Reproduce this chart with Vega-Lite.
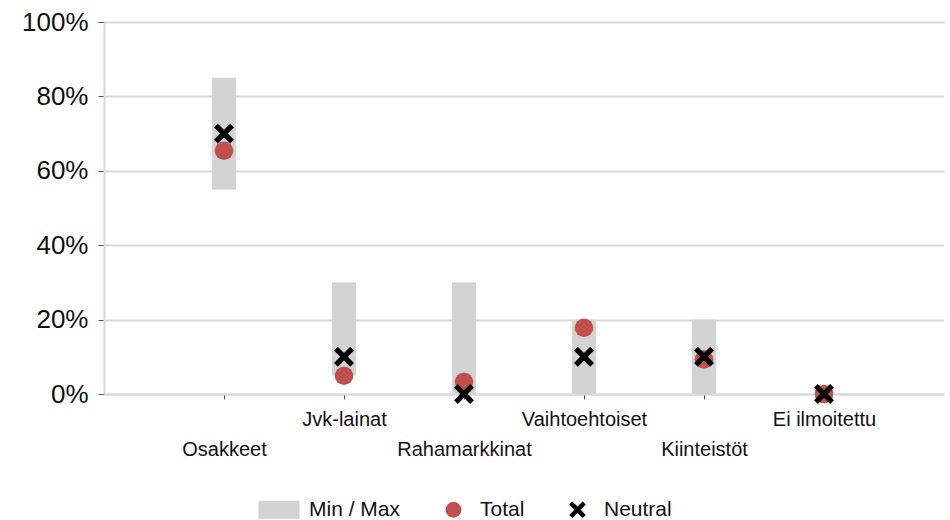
{
  "$schema": "https://vega.github.io/schema/vega-lite/v6.json",
  "width": 840,
  "height": 372,
  "autosize": {"type": "none"},
  "padding": {"left": 104, "top": 22, "right": 6, "bottom": 126},
  "background": "white",
  "config": {
    "view": {"stroke": null},
    "font": "Liberation Sans"
  },
  "data": {
    "values": [
      {"cat": "Osakkeet", "min": 55, "max": 85, "total": 65.4, "neutral": 70},
      {"cat": "Jvk-lainat", "min": 5, "max": 30, "total": 4.9, "neutral": 10},
      {"cat": "Rahamarkkinat", "min": 0, "max": 30, "total": 3.3, "neutral": 0},
      {"cat": "Vaihtoehtoiset", "min": 0, "max": 20, "total": 17.8, "neutral": 10},
      {"cat": "Kiinteistöt", "min": 0, "max": 20, "total": 9.3, "neutral": 10},
      {"cat": "Ei ilmoitettu", "min": 0, "max": 0, "total": 0, "neutral": 0}
    ]
  },
  "encoding": {
    "x": {
      "field": "cat",
      "type": "nominal",
      "sort": null,
      "scale": {"type": "point", "padding": 1},
      "axis": {
        "title": null,
        "labelAngle": 0,
        "labelFontSize": 20,
        "labelColor": "#111111",
        "labelOverlap": false,
        "labelBound": false,
        "labelBaseline": "top",
        "domainColor": "#d9d9d9",
        "domainWidth": 2,
        "tickColor": "#555555",
        "tickSize": 5,
        "labelPadding": {
          "condition": {"test": "indexof(['Osakkeet','Rahamarkkinat','Kiinteistöt'], datum.value) >= 0", "value": 40},
          "value": 10
        }
      }
    }
  },
  "layer": [
    {
      "mark": {"type": "bar", "size": 24, "opacity": 1},
      "encoding": {
        "y": {
          "field": "min", "type": "quantitative",
          "scale": {"domain": [0, 100], "nice": false},
          "axis": {"title": null, "values": [0, 20, 40, 60, 80, 100], "labelExpr": "datum.value + '%'", "labelFontSize": 26, "labelColor": "#111111", "domainColor": "#d9d9d9", "domainWidth": 2, "gridColor": "#d9d9d9", "gridWidth": 2, "tickColor": "#555555", "tickSize": 6, "labelPadding": 10}
        },
        "y2": {"field": "max"},
        "color": {
          "datum": "Min / Max",
          "scale": {"domain": ["Min / Max", "Total", "Neutral"], "range": ["#d3d3d3", "#c0504d", "#000000"]},
          "legend": {
            "title": null,
            "orient": "none",
            "legendX": 168,
            "legendY": 477,
            "direction": "horizontal",
            "columns": 3,
            "symbolSize": 250,
            "labelFontSize": 21,
            "labelColor": "#111111",
            "labelOffset": 16,
            "columnPadding": 42,
            "symbolOpacity": 1,
            "symbolStrokeWidth": 0,
            "padding": 0,
            "encode": {
              "symbols": {
                "update": {
                  "shape": {"signal": "datum.value === 'Min / Max' ? 'M-3.04,-1.14L2.15,-1.14L2.15,1.14L-3.04,1.14Z' : datum.value === 'Total' ? 'circle' : 'M-0.65,1.05L0,0.4L0.65,1.05L1.05,0.65L0.4,0L1.05,-0.65L0.65,-1.05L0,-0.4L-0.65,-1.05L-1.05,-0.65L-0.4,0L-1.05,0.65Z'"}
                }
              }
            }
          }
        }
      }
    },
    {
      "mark": {"type": "point", "shape": "circle", "filled": true, "size": 346, "opacity": 1, "strokeWidth": 0},
      "encoding": {
        "y": {
          "field": "total", "type": "quantitative",
          "scale": {"domain": [0, 100], "nice": false},
          "axis": {"title": null, "values": [0, 20, 40, 60, 80, 100], "labelExpr": "datum.value + '%'", "labelFontSize": 26, "labelColor": "#111111", "domainColor": "#d9d9d9", "domainWidth": 2, "gridColor": "#d9d9d9", "gridWidth": 2, "tickColor": "#555555", "tickSize": 6, "labelPadding": 10}
        },
        "color": {"datum": "Total"}
      }
    },
    {
      "mark": {"type": "point", "shape": "M-0.65,1.05L0,0.4L0.65,1.05L1.05,0.65L0.4,0L1.05,-0.65L0.65,-1.05L0,-0.4L-0.65,-1.05L-1.05,-0.65L-0.4,0L-1.05,0.65Z", "filled": true, "size": 361, "opacity": 1, "strokeWidth": 0},
      "encoding": {
        "y": {
          "field": "neutral", "type": "quantitative",
          "scale": {"domain": [0, 100], "nice": false},
          "axis": {"title": null, "values": [0, 20, 40, 60, 80, 100], "labelExpr": "datum.value + '%'", "labelFontSize": 26, "labelColor": "#111111", "domainColor": "#d9d9d9", "domainWidth": 2, "gridColor": "#d9d9d9", "gridWidth": 2, "tickColor": "#555555", "tickSize": 6, "labelPadding": 10}
        },
        "color": {"datum": "Neutral"}
      }
    }
  ]
}
